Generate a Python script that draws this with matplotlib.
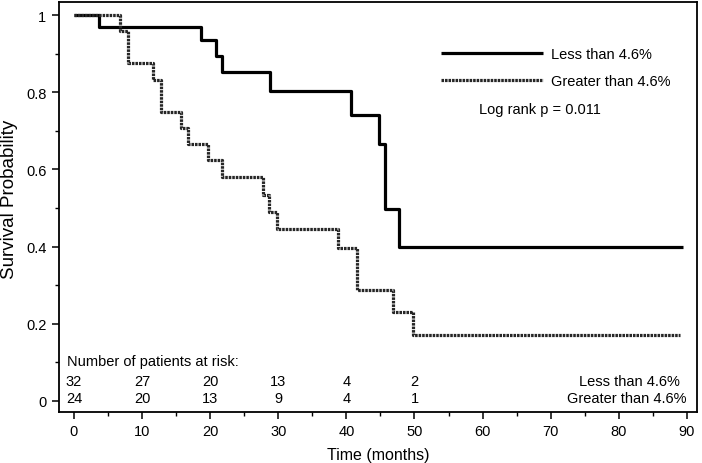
import matplotlib
matplotlib.use('Agg')
import matplotlib.pyplot as plt
from matplotlib.ticker import MultipleLocator, FuncFormatter

plt.rcParams['font.family'] = ['Liberation Sans', 'DejaVu Sans']

# Kaplan-Meier steps
less_t = [0, 3.7, 18.7, 20.8, 21.7, 28.8, 40.7, 44.8, 45.7, 47.8, 89.5]
less_s = [1.0, 0.969, 0.936, 0.893, 0.852, 0.804, 0.740, 0.666, 0.497, 0.398, 0.398]

greater_t = [0, 6.75, 7.9, 11.6, 12.8, 15.7, 16.8, 19.7, 21.8, 27.8, 28.7,
             29.8, 38.8, 41.6, 46.9, 49.8, 89.0]
greater_s = [1.0, 0.958, 0.875, 0.833, 0.75, 0.708, 0.667, 0.625, 0.58, 0.535,
             0.49, 0.445, 0.397, 0.287, 0.23, 0.172, 0.172]

# patients at risk
risk_times = [0, 10, 20, 30, 40, 50]
risk_less = [32, 27, 20, 13, 4, 2]
risk_greater = [24, 20, 13, 9, 4, 1]

label_less = 'Less than 4.6%'
label_greater = 'Greater than 4.6%'

fig = plt.figure(figsize=(7.02, 4.64), dpi=100)
ax = fig.add_axes([0.084, 0.110, 0.909, 0.8835])

ax.step(less_t, less_s, where='post', color='black', linewidth=2.3,
        label=label_less, solid_capstyle='butt')
ax.step(greater_t, greater_s, where='post', color='#262626', linewidth=2.3,
        linestyle=(0, (0.8, 0.3)), label=label_greater)

ax.set_xlim(-2.2, 91.5)
ax.set_ylim(-0.0285, 1.034)

ax.xaxis.set_major_locator(MultipleLocator(10))
ax.xaxis.set_minor_locator(MultipleLocator(5))
ax.yaxis.set_major_locator(MultipleLocator(0.2))
ax.yaxis.set_minor_locator(MultipleLocator(0.1))
ax.yaxis.set_major_formatter(FuncFormatter(lambda v, p: '%g' % round(v, 2)))

ax.tick_params(which='major', direction='out', length=5, width=1.1,
               labelsize=10.5, pad=4, top=False, right=False)
ax.tick_params(which='minor', direction='out', length=3, width=1.0,
               top=False, right=False)
for sp in ax.spines.values():
    sp.set_linewidth(1.3)

ax.set_xlabel('Time (months)', fontsize=11.5, labelpad=6)
ax.set_ylabel('Survival Probability', fontsize=13.5)
ax.yaxis.set_label_coords(-0.064, 0.52)

leg = ax.legend(loc='upper left', bbox_to_anchor=(0.598, 0.891), frameon=False,
                fontsize=10.5, handlelength=7.0, handletextpad=0.6,
                labelspacing=0.9, borderpad=0, borderaxespad=0)

ax.text(59.5, 0.758, 'Log rank p = 0.011', fontsize=10.5, va='center', ha='left')

# number at risk table
ax.text(-1.0, 0.104, 'Number of patients at risk:', fontsize=10.5, va='center', ha='left')
for t, a, b in zip(risk_times, risk_less, risk_greater):
    ax.text(t, 0.053, str(a), fontsize=10.5, va='center', ha='center')
    ax.text(t, 0.007, str(b), fontsize=10.5, va='center', ha='center')
ax.text(81.6, 0.053, label_less, fontsize=10.5, va='center', ha='center')
ax.text(81.2, 0.007, label_greater, fontsize=10.5, va='center', ha='center')

fig.savefig('out.png', dpi=100)
